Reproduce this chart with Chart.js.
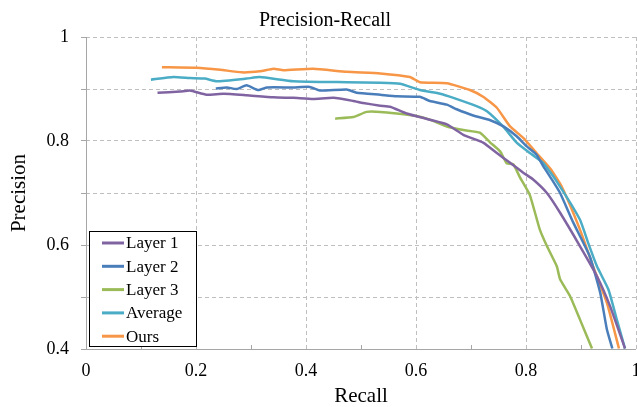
<!DOCTYPE html>
<html>
<head>
<meta charset="utf-8">
<script src="https://cdn.jsdelivr.net/npm/chart.js@4.4.1/dist/chart.umd.min.js"></script>
<style>
  body { margin: 0; background: #fff; }
</style>
</head>
<body>
<canvas id="pr" width="637" height="407"></canvas>
<script>
const titre = "Precision-Recall";
const noms = ["Layer 1", "Layer 2", "Layer 3", "Average", "Ours"];
const couleurs = ["#8064A2", "#4A7EBB", "#9BBB59", "#4BACC6", "#F79646"];
const petitesGraduations = [0.1, 0.3, 0.5, 0.7, 0.9];

// recall / precision
const layer1R = [0.130, 0.171, 0.189, 0.219, 0.250, 0.292, 0.341, 0.377, 0.413, 0.450, 0.486, 0.504, 0.535, 0.553, 0.583, 0.625, 0.656, 0.686, 0.722, 0.747, 0.771, 0.795, 0.813, 0.838, 0.862, 0.898, 0.929, 0.953, 0.980];
const layer1P = [0.893, 0.895, 0.897, 0.889, 0.891, 0.888, 0.884, 0.883, 0.881, 0.883, 0.877, 0.873, 0.868, 0.866, 0.853, 0.841, 0.832, 0.812, 0.797, 0.777, 0.758, 0.739, 0.726, 0.700, 0.662, 0.598, 0.540, 0.482, 0.401];

const layer2R = [0.236, 0.256, 0.274, 0.292, 0.313, 0.329, 0.377, 0.407, 0.425, 0.474, 0.492, 0.535, 0.565, 0.607, 0.625, 0.656, 0.674, 0.704, 0.735, 0.759, 0.783, 0.801, 0.819, 0.831, 0.847, 0.862, 0.886, 0.916, 0.935, 0.947, 0.957];
const layer2P = [0.901, 0.903, 0.900, 0.907, 0.898, 0.903, 0.903, 0.904, 0.897, 0.899, 0.893, 0.889, 0.886, 0.885, 0.877, 0.870, 0.861, 0.849, 0.840, 0.828, 0.809, 0.790, 0.774, 0.752, 0.726, 0.700, 0.643, 0.578, 0.508, 0.438, 0.401];

const layer3R = [0.453, 0.486, 0.510, 0.535, 0.565, 0.601, 0.625, 0.656, 0.686, 0.716, 0.735, 0.753, 0.765, 0.777, 0.789, 0.807, 0.825, 0.838, 0.856, 0.862, 0.880, 0.898, 0.920];
const layer3P = [0.843, 0.846, 0.856, 0.856, 0.853, 0.848, 0.841, 0.828, 0.821, 0.816, 0.797, 0.780, 0.757, 0.755, 0.730, 0.696, 0.630, 0.598, 0.559, 0.534, 0.502, 0.457, 0.401];

const moyenneR = [0.118, 0.159, 0.189, 0.216, 0.238, 0.292, 0.316, 0.377, 0.474, 0.535, 0.571, 0.607, 0.644, 0.668, 0.710, 0.729, 0.759, 0.783, 0.807, 0.831, 0.856, 0.898, 0.913, 0.929, 0.950, 0.965, 0.980];
const moyenneP = [0.918, 0.923, 0.921, 0.920, 0.915, 0.920, 0.923, 0.915, 0.913, 0.912, 0.910, 0.898, 0.891, 0.883, 0.867, 0.857, 0.827, 0.797, 0.777, 0.758, 0.722, 0.649, 0.604, 0.559, 0.514, 0.457, 0.401];

const oursR = [0.138, 0.201, 0.244, 0.283, 0.316, 0.341, 0.359, 0.413, 0.474, 0.535, 0.589, 0.607, 0.656, 0.698, 0.722, 0.747, 0.771, 0.795, 0.819, 0.844, 0.865, 0.898, 0.922, 0.947, 0.969];
const oursP = [0.942, 0.941, 0.937, 0.932, 0.934, 0.939, 0.936, 0.939, 0.933, 0.930, 0.923, 0.913, 0.911, 0.898, 0.885, 0.864, 0.828, 0.806, 0.777, 0.747, 0.712, 0.630, 0.559, 0.489, 0.401];

const series = [[layer1R, layer1P], [layer2R, layer2P], [layer3R, layer3P], [moyenneR, moyenneP], [oursR, oursP]];

const police = "'Liberation Serif', 'Times New Roman', serif";
const etiquette = (v) => Math.round(v * 10) % 2 === 0 ? String(Math.round(v * 10) / 10) : "";

new Chart(document.getElementById("pr"), {
    type: "scatter",
    data: {
        datasets: series.map((s, i) => ({
            label: noms[i],
            data: s[0].map((r, k) => ({x: r, y: s[1][k]})),
            showLine: true,
            borderColor: couleurs[i],
            backgroundColor: couleurs[i],
            borderWidth: 2.5,
            pointRadius: 0,
            tension: 0.15
        }))
    },
    options: {
        responsive: false,
        animation: false,
        layout: {padding: {left: 0, right: 1, top: 37, bottom: 0}},
        plugins: {
            legend: {display: false},
            tooltip: {enabled: false},
            title: {display: false}
        },
        scales: {
            x: {
                type: "linear",
                min: 0, max: 1,
                afterFit: (scale) => {
                    scale.height = 58;
                    scale.paddingLeft = 0;
                    scale.paddingRight = 0;
                },
                border: {display: false, dash: [4, 3]},
                grid: {
                    drawTicks: false,
                    lineWidth: 1,
                    color: (ctx) => Math.round(ctx.tick.value * 10) % 2 === 0 ? "#bfbfbf" : "rgba(0,0,0,0)"
                },
                ticks: {
                    stepSize: 0.1,
                    padding: 11,
                    color: "#000",
                    font: {family: police, size: 18},
                    callback: etiquette
                },
                title: {
                    display: true,
                    text: "Recall",
                    color: "#000",
                    font: {family: police, size: 21, lineHeight: 1},
                    padding: {top: 0, bottom: 0}
                }
            },
            y: {
                min: 0.4, max: 1,
                afterFit: (scale) => {
                    scale.width = 86;
                    scale.paddingTop = 0;
                    scale.paddingBottom = 0;
                },
                border: {display: false, dash: [4, 3]},
                grid: {
                    color: "#bfbfbf",
                    lineWidth: 1,
                    drawTicks: true,
                    tickLength: 5,
                    tickColor: "#a6a6a6"
                },
                ticks: {
                    stepSize: 0.1,
                    padding: 12,
                    color: "#000",
                    font: {family: police, size: 18},
                    callback: etiquette
                },
                title: {
                    display: true,
                    text: "Precision",
                    color: "#000",
                    font: {family: police, size: 21, lineHeight: 1},
                    padding: {top: 9, bottom: 0}
                }
            }
        }
    },
    plugins: [{
        id: "cadre",
        beforeDatasetsDraw: (chart) => {
            const {ctx, chartArea} = chart;
            ctx.save();
            ctx.setLineDash([]);
            ctx.strokeStyle = "#a6a6a6";
            ctx.lineWidth = 1;
            ctx.beginPath();
            ctx.moveTo(chartArea.left + 0.5, chartArea.top);
            ctx.lineTo(chartArea.left + 0.5, chartArea.bottom + 0.5);
            ctx.lineTo(chartArea.right, chartArea.bottom + 0.5);
            ctx.stroke();
            // petites graduations a 0.1
            const x = chart.scales.x;
            petitesGraduations.forEach(v => {
                const px = Math.round(x.getPixelForValue(v)) + 0.5;
                ctx.beginPath();
                ctx.moveTo(px, chartArea.bottom);
                ctx.lineTo(px, chartArea.bottom - 4);
                ctx.stroke();
            });
            ctx.restore();
        },
        afterDraw: (chart) => {
            const ctx = chart.ctx;
            ctx.save();
            // titre
            ctx.fillStyle = "#000";
            ctx.font = "20px " + police;
            ctx.textAlign = "left";
            ctx.textBaseline = "alphabetic";
            ctx.fillText(titre, 259, 26);
            // legende dans le graphe
            ctx.fillStyle = "#fff";
            ctx.fillRect(89.5, 231.5, 107, 115);
            ctx.strokeStyle = "#000";
            ctx.lineWidth = 1;
            ctx.strokeRect(89.5, 231.5, 107, 115);
            ctx.font = "17px " + police;
            ctx.textBaseline = "middle";
            noms.forEach((nom, i) => {
                const y = 243 + i * 23.3;
                ctx.strokeStyle = couleurs[i];
                ctx.lineWidth = 3;
                ctx.beginPath();
                ctx.moveTo(102, y);
                ctx.lineTo(124, y);
                ctx.stroke();
                ctx.fillStyle = "#000";
                ctx.fillText(nom, 126, y + 1);
            });
            ctx.restore();
        }
    }]
});
</script>
</body>
</html>
